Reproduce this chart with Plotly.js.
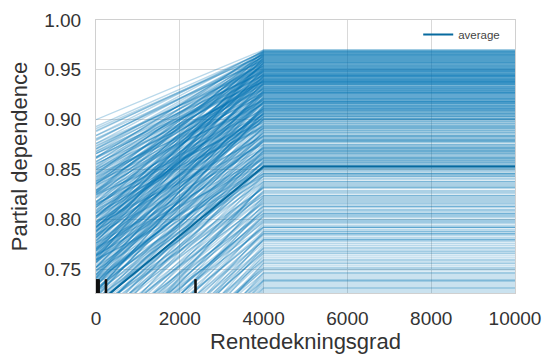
<!DOCTYPE html>
<html>
<head>
<meta charset="utf-8">
<script src="https://cdn.plot.ly/plotly-3.0.1.min.js"></script>
<style>
  html, body { margin: 0; padding: 0; background: #ffffff; }
  #chart { width: 549px; height: 354px; }
</style>
</head>
<body>
<div id="chart"></div>
<script>
// Grid of feature values where the model was evaluated
const gridValues = [0, 4000, 10000];

// Individual conditional expectation curves: prediction at 0 and at 4000 (flat afterwards)
const iceStart = [
  0.900,0.884,0.862,0.893,0.845,0.871,0.889,0.828,0.857,0.880,0.836,0.868,0.812,0.884,0.849,0.802,0.873,0.830,0.861,0.792,0.876,0.818,0.855,0.784,0.841,0.868,0.806,0.832,0.858,0.778,0.824,0.851,0.795,0.838,0.866,0.771,0.812,0.848,0.876,0.822,0.788,0.845,0.866,0.803,0.829,
  0.822,0.787,0.850,0.764,0.808,0.836,0.752,0.795,0.829,0.771,0.814,0.742,0.801,0.758,0.826,0.781,0.737,0.805,0.764,0.818,0.856,0.744,0.793,0.834,0.727,0.776,0.812,0.762,0.845,0.748,
  0.782,0.741,0.810,0.724,0.768,0.735,0.789,0.712,0.751,0.798,0.719,0.763,0.704,0.742,0.776,0.697,0.731,0.708,0.759,0.825,0.716,0.757,0.690,0.738,0.772,
  0.716,0.682,0.735,0.698,0.661,0.714,0.675,0.701,0.652,0.688,0.669,0.639,0.684,0.657,0.671,0.760,0.648,0.692,0.631,0.678,
  0.651,0.632,0.665,0.618,0.644,0.607,0.638,0.596,0.624,0.589,0.612,0.602,0.578,0.594,0.607,0.571,0.586,0.563,0.579,0.555,0.676,0.599,0.615,0.581,0.592,
  0.853,0.817,0.879,0.798,0.862,0.835,0.776,0.891,0.846,0.809,0.870,0.787,0.852,0.826,0.765,0.881,0.839,0.801,0.858,0.774,
  0.866,0.829,0.791,0.847,0.812,0.760,0.871,0.835,0.797,0.852,0.816,0.769,0.843,0.808,0.861,0.782,0.827,0.850,0.757,0.814,
  0.838,0.792,0.863,0.825,0.778,0.846,0.806,0.888,0.759,0.833,0.874,0.781,0.855,0.817,0.768,0.827,0.795,0.862,0.784,0.840,
  0.772,0.836,0.741,0.803,0.764,0.827,0.751,0.790,0.842,0.733,0.807,0.769,0.821,0.745,0.796,0.838,0.727,0.779,0.815,0.752,
  0.797,0.733,0.770,0.824,0.744,0.788,0.722,0.806,0.814,0.756,0.789,0.736,0.803,0.766,0.721,0.784,0.843,0.759,0.728,0.792,
  0.757,0.803,0.729,0.776,0.744,0.816,0.701,0.763,0.727,0.794,0.748,0.711,0.770,0.694,0.737,0.785,0.716,0.752,0.683,0.729,
  0.764,0.705,0.741,0.688,0.723,0.749,0.793,0.733,0.712,0.676,
  0.694,0.727,0.663,0.708,0.679,0.646,0.697,0.661,0.712,0.635,0.674,0.691,0.628,0.666,0.643,0.660,0.740,0.677,0.655,0.622,
  0.666,0.617,0.648,0.603,0.634,0.591,0.627,0.582,0.613,0.574,0.605,0.566,0.596,0.560,0.587,0.552,0.581,0.548,0.573,0.642,
  0.702,0.708,0.713,0.719,0.724,0.729,0.734,0.738,0.743,0.747,0.752,0.756,0.761,0.765,0.770,0.774,0.779,0.783,0.788,0.792,
  0.797,0.801,0.706,0.716,0.727,0.736,0.745,0.754,0.763,0.773,0.782,0.791,0.711,0.731,0.749,0.768,0.786,0.721,0.740,0.759,
  0.588,0.596,0.603,0.611,0.619,0.626,0.634,0.642,0.650,0.657,0.665,0.672,0.680,0.687,0.695
];
const iceEnd = [
  0.970,0.969,0.968,0.968,0.967,0.966,0.965,0.965,0.964,0.963,0.962,0.961,0.960,0.959,0.958,0.957,0.956,0.955,0.954,0.953,0.952,0.951,0.950,0.949,0.948,0.947,0.946,0.945,0.944,0.943,0.942,0.941,0.940,0.939,0.938,0.937,0.936,0.935,0.966,0.961,0.957,0.953,0.948,0.944,0.939,
  0.934,0.932,0.930,0.929,0.927,0.925,0.923,0.921,0.920,0.918,0.916,0.914,0.914,0.912,0.910,0.908,0.906,0.905,0.903,0.901,0.931,0.926,0.922,0.917,0.913,0.909,0.904,0.928,0.919,0.907,
  0.899,0.896,0.893,0.893,0.890,0.887,0.884,0.881,0.878,0.875,0.873,0.870,0.867,0.864,0.861,0.858,0.856,0.853,0.851,0.897,0.889,0.879,0.869,0.862,0.855,
  0.848,0.845,0.841,0.838,0.834,0.831,0.827,0.824,0.820,0.817,0.813,0.810,0.806,0.803,0.800,0.843,0.836,0.822,0.815,0.808,
  0.798,0.794,0.790,0.786,0.786,0.782,0.778,0.774,0.770,0.766,0.762,0.758,0.754,0.750,0.749,0.745,0.741,0.737,0.733,0.729,0.792,0.780,0.768,0.756,0.739,
  0.970,0.969,0.969,0.968,0.967,0.967,0.966,0.965,0.964,0.964,0.963,0.962,0.962,0.961,0.960,0.960,0.959,0.958,0.958,0.957,
  0.956,0.955,0.955,0.954,0.953,0.952,0.951,0.951,0.950,0.949,0.948,0.947,0.946,0.946,0.945,0.944,0.943,0.942,0.941,0.940,
  0.940,0.939,0.938,0.937,0.936,0.936,0.935,0.968,0.963,0.959,0.954,0.950,0.945,0.941,0.937,0.965,0.957,0.949,0.943,0.938,
  0.935,0.933,0.933,0.931,0.930,0.928,0.927,0.926,0.924,0.923,0.922,0.920,0.919,0.918,0.917,0.915,0.914,0.913,0.911,0.910,
  0.909,0.907,0.906,0.905,0.904,0.902,0.901,0.900,0.932,0.929,0.924,0.921,0.916,0.911,0.908,0.903,0.927,0.918,0.912,0.906,
  0.900,0.898,0.895,0.894,0.892,0.891,0.888,0.886,0.885,0.883,0.880,0.879,0.877,0.874,0.872,0.871,0.868,0.866,0.865,0.863,
  0.860,0.859,0.857,0.854,0.852,0.850,0.894,0.882,0.871,0.859,
  0.849,0.846,0.844,0.840,0.837,0.835,0.832,0.829,0.826,0.823,0.819,0.816,0.812,0.809,0.805,0.802,0.846,0.833,0.818,0.804,
  0.799,0.796,0.792,0.788,0.784,0.780,0.776,0.772,0.768,0.764,0.760,0.756,0.752,0.747,0.743,0.739,0.735,0.731,0.727,0.788,
  0.846,0.851,0.862,0.857,0.869,0.866,0.878,0.872,0.884,0.889,0.891,0.898,0.903,0.900,0.911,0.916,0.918,0.925,0.929,0.931,
  0.938,0.944,0.832,0.843,0.854,0.875,0.880,0.892,0.901,0.909,0.921,0.933,0.824,0.861,0.887,0.896,0.927,0.838,0.868,0.883,
  0.731,0.738,0.746,0.751,0.759,0.766,0.771,0.779,0.785,0.792,0.797,0.806,0.813,0.821,0.828
];

// Average partial dependence over the grid
const averagePD = [0.714, 0.853, 0.853];

// Deciles of the feature, shown as rug marks along the bottom
const deciles = [8, 25, 40, 55, 70, 230, 245, 2370, 2380];

const traces = [];

iceStart.forEach((y0, i) => {
  const y1 = iceEnd[i];
  traces.push({
    type: 'scatter',
    mode: 'lines',
    x: gridValues,
    y: [y0, y1, y1],
    line: { color: 'rgba(1,115,178,0.28)', width: 1.4 },
    showlegend: false,
    hoverinfo: 'skip'
  });
});

traces.push({
  type: 'scatter',
  mode: 'lines',
  name: 'average',
  x: gridValues,
  y: averagePD,
  line: { color: '#066a9f', width: 2 }
});

const shapes = deciles.map(d => ({
  type: 'line',
  xref: 'x', yref: 'y domain',
  x0: d, x1: d, y0: 0, y1: 0.05,
  line: { color: '#111111', width: 2 }
}));

const font = 'Liberation Sans, Arial, sans-serif';

const layout = {
  width: 549,
  height: 354,
  margin: { l: 96, r: 34, t: 20, b: 61 },
  paper_bgcolor: '#ffffff',
  plot_bgcolor: '#ffffff',
  font: { family: font, color: '#262626' },
  showlegend: true,
  legend: {
    x: 0.769, y: 1.0, xanchor: 'left', yanchor: 'top',
    bgcolor: 'rgba(255,255,255,0)',
    font: { size: 11.5, color: '#444444', family: font },
    itemwidth: 30
  },
  xaxis: {
    range: [0, 10000],
    tickvals: [0, 2000, 4000, 6000, 8000, 10000],
    ticktext: ['0', '2000', '4000', '6000', '8000', '10000'],
    showgrid: true, gridcolor: '#d9d9d9', gridwidth: 1,
    zeroline: false,
    showline: true, linecolor: '#d0d0d0', linewidth: 1, mirror: true,
    ticks: '', ticklabelstandoff: 8,
    tickfont: { size: 19, color: '#333333' },
    title: { text: 'Rentedekningsgrad', font: { size: 22, color: '#333333' }, standoff: 8 }
  },
  yaxis: {
    range: [0.726, 1.0],
    tickvals: [0.75, 0.80, 0.85, 0.90, 0.95, 1.00],
    ticktext: ['0.75', '0.80', '0.85', '0.90', '0.95', '1.00'],
    showgrid: true, gridcolor: '#d9d9d9', gridwidth: 1,
    zeroline: false,
    showline: true, linecolor: '#d0d0d0', linewidth: 1, mirror: true,
    ticks: '', ticklabelstandoff: 10,
    tickfont: { size: 19, color: '#333333' },
    title: { text: 'Partial dependence', font: { size: 22, color: '#333333' }, standoff: 10 }
  },
  shapes: shapes
};

Plotly.newPlot('chart', traces, layout, { staticPlot: true, displayModeBar: false });
</script>
</body>
</html>
